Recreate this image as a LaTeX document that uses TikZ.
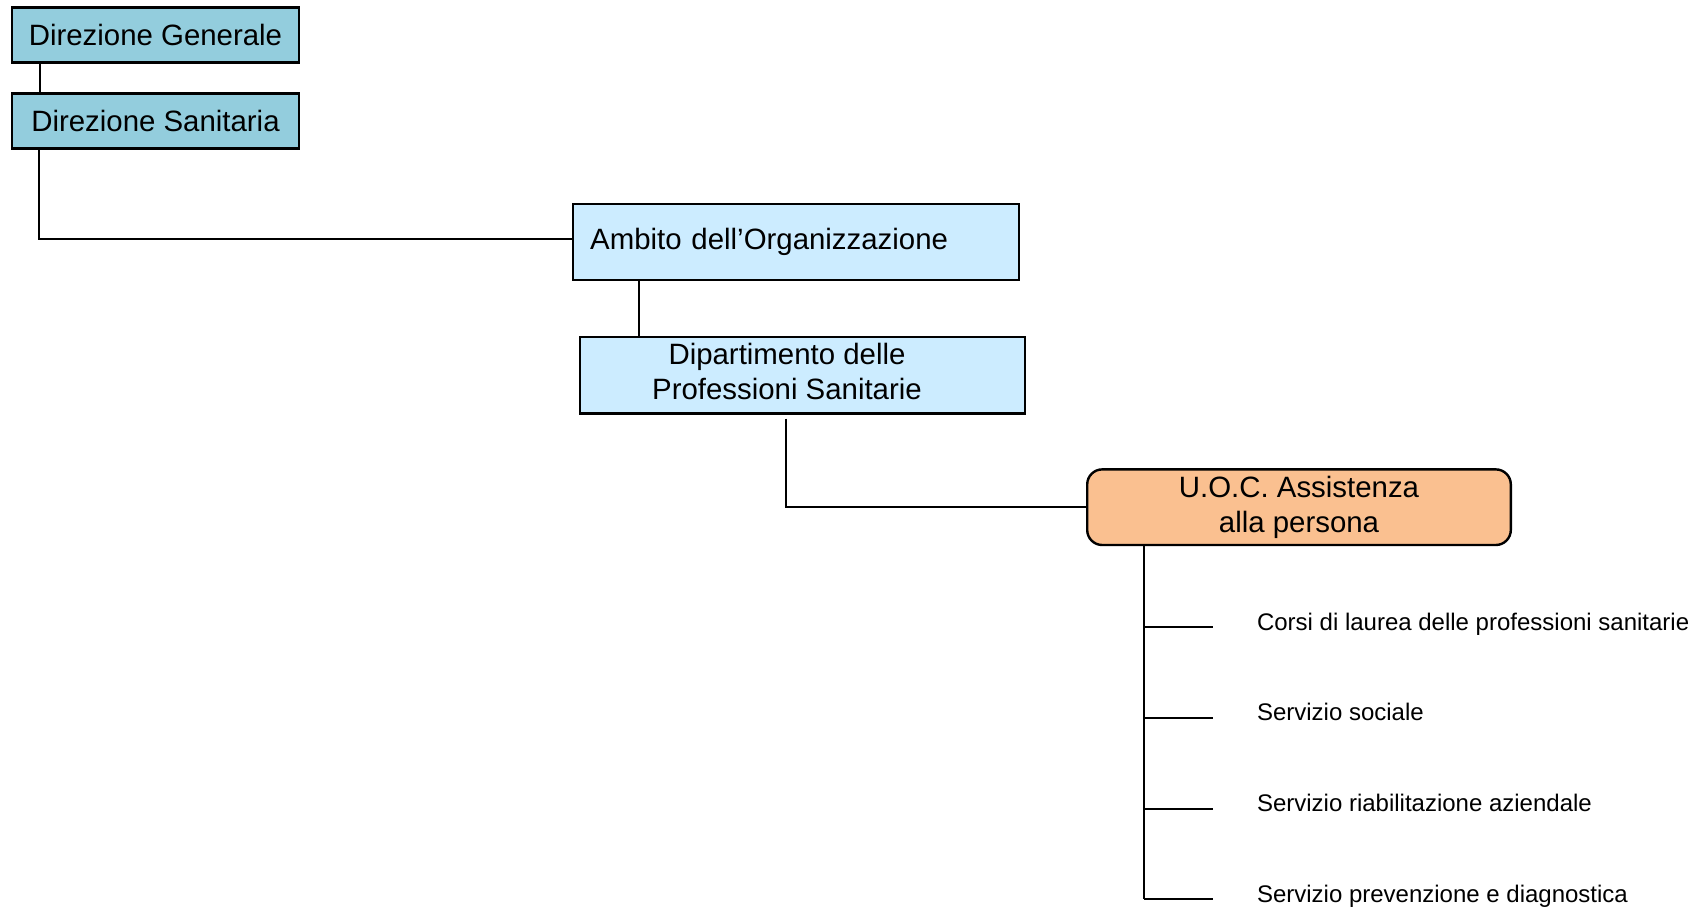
\documentclass[tikz,border=0pt]{standalone}
\usepackage{fontspec}
\setmainfont{Liberation Sans}
\usetikzlibrary{positioning}
\definecolor{dirblu}{HTML}{93CDDD}
\definecolor{ambblu}{HTML}{CCECFF}
\definecolor{uocora}{HTML}{FAC090}

\begin{document}
\begin{tikzpicture}[x=0.5pt,y=-0.5pt,node distance=43pt,on grid,line width=1pt,
   dir/.style={draw,line width=1.2pt,fill=dirblu,minimum width=143.5pt,minimum height=27.5pt,inner sep=0pt,font=\fontsize{14.7}{17.4}\selectfont},
   amb/.style={draw,line width=1.2pt,fill=ambblu,font=\fontsize{14.7}{17.4}\selectfont},
   uoc/.style={draw,line width=1.2pt,fill=uocora,rounded corners=7.5pt,minimum width=211.8pt,minimum height=37.8pt,align=center,font=\fontsize{14.7}{17.4}\selectfont},
   voce/.style={anchor=base west,inner sep=0pt,font=\fontsize{12}{14.4}\selectfont}]
   \useasboundingbox (0,0) rectangle (1707,909);
   \node[dir] (dg) at (155.5,35) {Direzione Generale};
   \node[dir] (ds) [below=of dg] {Direzione Sanitaria};
   \node[amb,text width=205.8pt,inner xsep=8.7pt,minimum height=38.1pt,align=left] (ambito) at (796,242) {Ambito dell’Organizzazione};
   \node[amb,minimum width=222.5pt,minimum height=38.3pt,inner ysep=0pt] (dip) at (802.5,375)
      {\raisebox{-1.2pt}{\begin{tabular}{@{}c@{}}Dipartimento delle\\Professioni Sanitarie\end{tabular}}\kern15.5pt};
   \node[uoc] (assist) at (1299,507.2) {U.O.C. Assistenza\\alla persona};
   \foreach \t [count=\i] in {Corsi di laurea delle professioni sanitarie,Servizio sociale,Servizio riabilitazione aziendale,Servizio prevenzione e diagnostica}
      \node[voce] (v\i) at (1256,539.5+90.7*\i) {\t};
   % collegamenti
   \draw ([xshift=14.5pt]dg.south west) -- ([xshift=14.5pt]ds.north west);
   \draw ([xshift=14.2pt]ds.south west) |- ([yshift=1.5pt]ambito.west);
   \draw ([xshift=33.5pt]ambito.south west) -- ([xshift=33.5pt]ambito.south west |- dip.north);
   \draw ([xshift=-8.3pt,yshift=-2pt]dip.south) |- (assist.west);
   \coordinate (stem) at ([xshift=29.2pt]assist.south west);
   \draw (stem) -- ([yshift=1.5pt]stem |- v4.base);
   \foreach \i in {1,...,4}
      \draw[shorten >=21.5pt] ([yshift=1.5pt]stem |- v\i.base) -- ([yshift=1.5pt]v\i.base west);
\end{tikzpicture}
\end{document}
